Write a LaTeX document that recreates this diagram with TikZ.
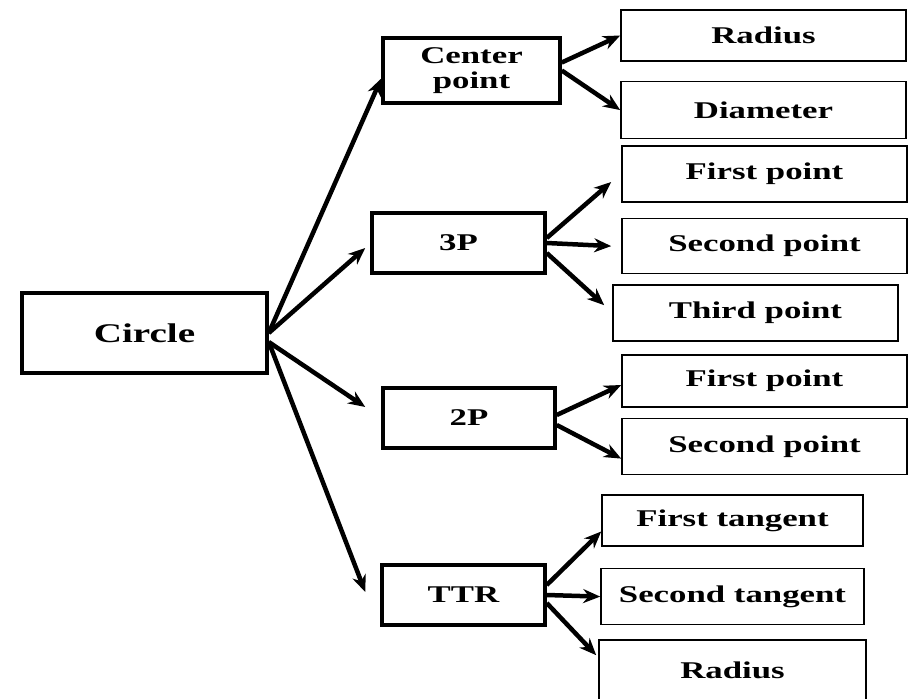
\documentclass[tikz,border=0pt]{standalone}
\usepackage{fontspec}
\setmainfont{Liberation Serif}[FakeStretch=1.45]
\usepackage{tikz}
\usetikzlibrary{arrows.meta}
\usetikzlibrary{positioning}

\tikzset{
  mainbox/.style={draw, line width=3.5pt, align=center, inner sep=0pt,
    font=\bfseries\fontsize{24}{25}\selectfont},
  leafbox/.style={draw, line width=1.6pt, inner sep=0pt, minimum width=285pt,
    font=\bfseries\fontsize{24}{25}\selectfont},
  link/.style={-{Stealth[length=17pt,width=14pt]}, line width=4.5pt},
}

\begin{document}
\begin{tikzpicture}[x=1pt, y=-1pt]
\useasboundingbox (0,0) rectangle (916,699);
% root
\node (circle) [mainbox, minimum width=245pt, minimum height=80pt, font=\bfseries\fontsize{27}{28}\selectfont] at (144.5,333) {Circle};
% methods
\node (cpt) [mainbox, minimum width=177pt, minimum height=65pt] at (471.5,70.5) {Center\\point};
\node (p3) [mainbox, minimum width=173pt, minimum height=60pt] at (458.5,243) {3P};
\node (p2) [mainbox, minimum width=172pt, minimum height=60pt] at (469,418) {2P};
\node (ttr) [mainbox, minimum width=163pt, minimum height=60pt] at (463.5,595) {TTR};
% inputs
\node (radius1) [leafbox, minimum height=51pt] at (763.5,35.5) {Radius};
\node (diameter) [leafbox, minimum height=57pt, below=19pt of radius1] {Diameter};
\node (first1) [leafbox, minimum height=56pt] at (764.5,174) {First point};
\node (second1) [leafbox, minimum height=55pt, below=15pt of first1] {Second point};
\node (third1) [leafbox, minimum height=56pt, below=10pt of second1, xshift=-9pt] {Third point};
\node (first2) [leafbox, minimum height=52pt] at (764.5,381) {First point};
\node (second2) [leafbox, minimum height=56pt, below=10pt of first2] {Second point};
\node (ftan) [leafbox, minimum width=261pt, minimum height=51pt] at (732.5,520.5) {First tangent};
\node (stan) [leafbox, minimum width=263pt, minimum height=56pt, below=21pt of ftan] {Second tangent};
\node (radius2) [leafbox, minimum width=267pt, minimum height=60pt, below=14pt of stan] {Radius};
% arrows from the root
\draw [link] (circle.east) -- ([yshift=-8pt]cpt.west);
\draw [link] (circle.east) -- ([xshift=-5pt, yshift=-5pt]p3.west);
\draw [link] ([yshift=-9pt]circle.east) -- ([xshift=-16pt, yshift=11pt]p2.west);
\draw [link] ([yshift=-9pt]circle.east) -- ([xshift=-15pt, yshift=3pt]ttr.west);
% arrows to the inputs
\draw [link] ([yshift=8pt]cpt.east) -- (radius1.west);
\draw [link] (cpt.east) -- (diameter.west);
\draw [link] ([yshift=5pt]p3.east) -- ([xshift=-10pt, yshift=-8pt]first1.west);
\draw [link] (p3.east) -- ([xshift=-10pt]second1.west);
\draw [link] ([yshift=-10pt]p3.east) -- ([xshift=-8pt, yshift=8pt]third1.west);
\draw [link] ([yshift=3pt]p2.east) -- ([yshift=-4pt]first2.west);
\draw [link] ([yshift=-7pt]p2.east) -- ([yshift=-12pt]second2.west);
\draw [link] ([yshift=10pt]ttr.east) -- ([yshift=-11pt]ftan.west);
\draw [link] (ttr.east) -- (stan.west);
\draw [link] ([yshift=-8pt]ttr.east) -- ([xshift=-2pt, yshift=15pt]radius2.west);
\end{tikzpicture}
\end{document}
